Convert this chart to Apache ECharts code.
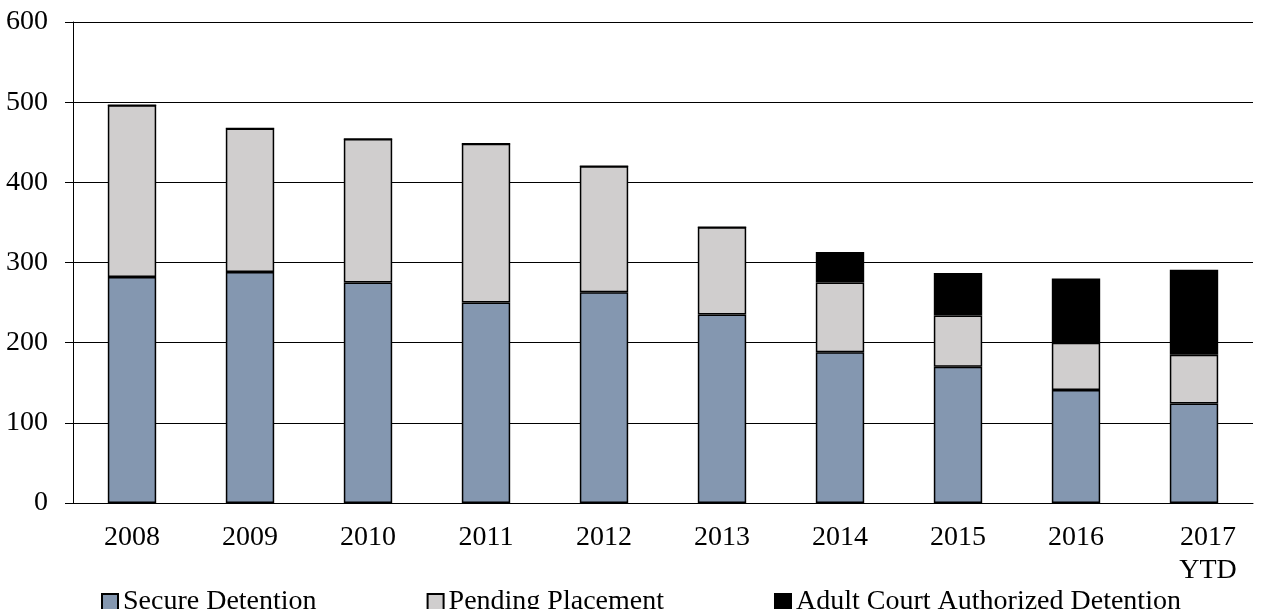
<!DOCTYPE html>
<html lang="en">
<head>
    <meta charset="UTF-8">
    <title>Detention</title>
    <script src="https://cdn.jsdelivr.net/npm/echarts@6.0.0/dist/echarts.min.js"></script>
    <style>
        html, body { margin: 0; padding: 0; background: #fff; }
        #grafica { width: 1268px; height: 609px; }
    </style>
</head>
<body>
    <div id="grafica"></div>
    <script>
        // datos
        let anios = ['2008', '2009', '2010', '2011', '2012', '2013', '2014', '2015', '2016', '2017\nYTD'];
        let secure = [282, 288, 275, 250, 263, 235, 188, 170, 141, 124];
        let pending = [214, 179, 179, 198, 157, 109, 87, 64, 59, 61];
        let adult = [0, 0, 0, 0, 0, 0, 38, 53, 80, 106];
        let ticksY = [0, 100, 200, 300, 400, 500, 600];

        let fuente = '"Liberation Serif", "Times New Roman", serif';

        function serie(nombre, datos, color) {
            return {
                name: nombre,
                type: 'bar',
                stack: 'total',
                barWidth: '41%',
                data: datos,
                itemStyle: { color: color, borderColor: '#000', borderWidth: 1.5 }
            };
        }

        let myChart = echarts.init(document.getElementById('grafica'));

        let option = {
            animation: false,
            textStyle: { fontFamily: fuente },
            grid: { left: 73, right: 15, top: 22, bottom: 106 },
            legend: {
                left: 96,
                top: 583,
                icon: 'rect',
                itemWidth: 16,
                itemHeight: 16,
                itemGap: 110,
                textStyle: { fontFamily: fuente, fontSize: 28, color: '#000' },
                data: ['Secure Detention', 'Pending Placement', 'Adult Court Authorized Detention']
            },
            xAxis: {
                type: 'category',
                data: anios,
                axisLine: { lineStyle: { color: '#000', width: 1 } },
                axisTick: { length: 8, lineStyle: { color: '#000' } },
                axisLabel: {
                    interval: 0,
                    hideOverlap: false,
                    color: '#000', fontSize: 28, margin: 18, lineHeight: 33, fontFamily: fuente,
                    // la ultima etiqueta esta algo desplazada a la derecha
                    formatter: function (v) {
                        return v.indexOf('YTD') >= 0 ? '{ytd|' + v.split('\n').join('}\n{ytd|') + '}' : v;
                    },
                    rich: {
                        ytd: { fontSize: 28, lineHeight: 33, fontFamily: fuente, color: '#000', padding: [0, 0, 0, 28] }
                    }
                }
            },
            yAxis: {
                type: 'value',
                min: ticksY[0],
                max: ticksY[ticksY.length - 1],
                interval: 100,
                axisLine: { show: true, lineStyle: { color: '#000', width: 1 } },
                axisTick: { show: true, length: 8, lineStyle: { color: '#000' } },
                axisLabel: { color: '#000', fontSize: 28, margin: 25, fontFamily: fuente },
                splitLine: { lineStyle: { color: '#000', width: 1 } }
            },
            series: [
                serie('Secure Detention', secure, '#8497B0'),
                serie('Pending Placement', pending, '#D0CECE'),
                serie('Adult Court Authorized Detention', adult, '#000000')
            ]
        };

        myChart.setOption(option);
    </script>
</body>
</html>
